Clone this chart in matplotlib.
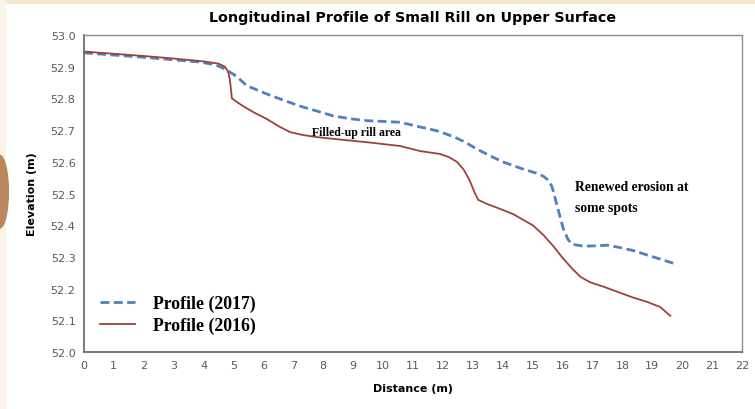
import matplotlib.pyplot as plt
from matplotlib.patches import Rectangle, Ellipse
import numpy as np

# profile readings, distance (m) vs elevation (m)
dist_2017 = [0.0, 1.0, 2.0, 3.0, 3.88, 4.4, 4.72, 5.1, 5.45, 6.12, 6.6, 7.22, 7.8, 8.33, 8.9, 9.46, 10.57,
             11.24, 11.8, 12.34, 12.75, 13.14, 13.6, 14.0, 14.68, 15.1, 15.35, 15.55, 15.65, 15.82, 16.02,
             16.18, 16.32, 16.69, 17.1, 17.49, 17.9, 18.36, 19.03, 19.77]
elev_2017 = [52.944, 52.937, 52.930, 52.922, 52.915, 52.906, 52.893, 52.87, 52.84, 52.814, 52.797, 52.776,
             52.76, 52.745, 52.736, 52.73, 52.725, 52.71, 52.698, 52.68, 52.662, 52.64, 52.618, 52.60,
             52.577, 52.565, 52.555, 52.54, 52.52, 52.46, 52.39, 52.355, 52.34, 52.334, 52.335, 52.337,
             52.33, 52.32, 52.30, 52.278]

dist_2016 = [0.0, 1.0, 2.0, 3.0, 4.0, 4.5, 4.72, 4.82, 4.88, 4.95, 5.1, 5.32, 5.7, 6.12, 6.5, 6.89, 7.3,
             7.79, 8.6, 9.46, 10.57, 11.24, 11.9, 12.2, 12.47, 12.7, 12.9, 13.05, 13.18, 13.48, 13.9,
             14.35, 15.0, 15.35, 15.69, 16.0, 16.35, 16.6, 16.92, 17.4, 17.83, 18.35, 18.83, 19.26, 19.6]
elev_2016 = [52.948, 52.941, 52.934, 52.926, 52.917, 52.91, 52.90, 52.885, 52.86, 52.80, 52.79, 52.776,
             52.755, 52.735, 52.713, 52.694, 52.685, 52.678, 52.67, 52.662, 52.65, 52.634, 52.625, 52.615,
             52.60, 52.575, 52.54, 52.505, 52.48, 52.467, 52.452, 52.435, 52.40, 52.37, 52.334, 52.297,
             52.26, 52.237, 52.22, 52.205, 52.19, 52.172, 52.158, 52.142, 52.114]

xticks = np.arange(0, 23, 1)
yticks = np.arange(52.0, 53.01, 0.1)

fig = plt.figure(figsize=(7.55, 4.10), dpi=100)
fig.patch.set_facecolor('white')

# cream edges around the chart
fig.patches.append(Rectangle((0, 0.987), 1, 0.013, transform=fig.transFigure,
                             facecolor='#f6e6cc', edgecolor='none', zorder=0))
fig.patches.append(Rectangle((0, 0), 0.008, 1, transform=fig.transFigure,
                             facecolor='#fbf3e6', edgecolor='none', zorder=0))
fig.patches.append(Ellipse((0.0, 0.53), 0.024, 0.18, transform=fig.transFigure,
                           facecolor='#b8875a', edgecolor='none', zorder=0))

ax = fig.add_axes([0.111, 0.139, 0.872, 0.773])

ax.plot(dist_2017, elev_2017, color='#4f81bd', lw=2.0, ls=(0, (3.2, 1.6)),
        label='Profile (2017)')
ax.plot(dist_2016, elev_2016, color='#a0403c', lw=1.3, label='Profile (2016)')

ax.set_xlim(0, 22)
ax.set_ylim(52.0, 53.0)
ax.set_xticks(xticks)
ax.set_yticks(yticks)
ax.set_yticklabels(['%.1f' % v for v in yticks])
ax.tick_params(length=0, labelsize=8, labelcolor='#595959', pad=6)
for s in ax.spines.values():
    s.set_color('#8c8c8c')
    s.set_linewidth(1.0)
for s in ['left', 'bottom']:
    ax.spines[s].set_color('#6e6e6e')
    ax.spines[s].set_linewidth(1.3)

ax.set_title('Longitudinal Profile of Small Rill on Upper Surface',
             fontsize=10.3, fontweight='bold', pad=10, x=0.5)
ax.set_xlabel('Distance (m)', fontsize=8, fontweight='bold', labelpad=9)
ax.set_ylabel('Elevation (m)', fontsize=8, fontweight='bold', labelpad=10)

serif = {'family': 'Liberation Serif', 'weight': 'bold'}
ax.text(7.63, 52.675, 'Filled-up rill area', fontsize=8.5, fontdict=serif,
        va='bottom')
ax.text(16.4, 52.51, 'Renewed erosion at', fontsize=9.8, fontdict=serif)
ax.text(16.4, 52.445, 'some spots', fontsize=9.8, fontdict=serif)

ax.legend(loc='lower left', bbox_to_anchor=(0.0, 0.007), frameon=False,
          handlelength=2.0, handletextpad=1.0, labelspacing=0.25,
          prop={'family': 'Liberation Serif', 'weight': 'bold', 'size': 12.8})

fig.savefig('out.png', dpi=100)
